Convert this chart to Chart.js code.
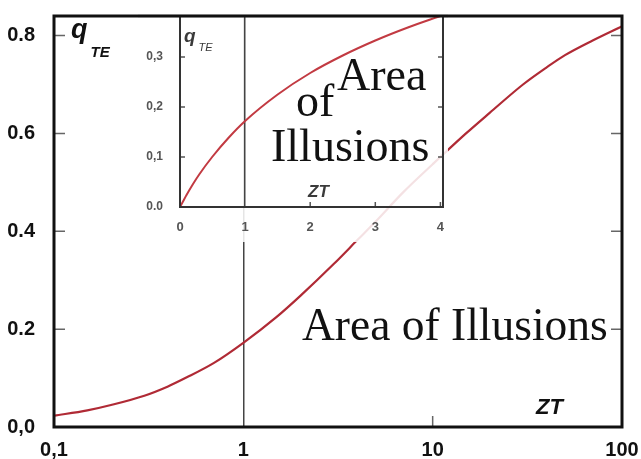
<!DOCTYPE html>
<html>
<head>
<meta charset="utf-8">
<script src="https://cdn.jsdelivr.net/npm/chart.js@4"></script>
<style>
  html, body { margin: 0; padding: 0; background: #fff; }
  #wrap { position: relative; width: 641px; height: 459px; }
  #principal { position: absolute; left: 0; top: 0; }
  #inserto { position: absolute; left: 138px; top: 0; background: rgba(255,255,255,0.86); }
</style>
</head>
<body>
<div id="wrap">
  <canvas id="principal" width="641" height="459"></canvas>
  <canvas id="inserto" width="310" height="242"></canvas>
</div>
<script>
// curva principal (eje x logaritmico)
const ztPrincipal = [0.1, 0.15, 0.2, 0.3, 0.4, 0.5, 0.7, 1, 1.5, 2, 3, 4, 5, 7, 10, 15, 20, 30, 40, 50, 70, 100];
const qPrincipal  = [0.023, 0.034, 0.045, 0.064, 0.083, 0.101, 0.131, 0.172, 0.225, 0.268, 0.333, 0.382, 0.42, 0.48, 0.537, 0.60, 0.642, 0.70, 0.735, 0.76, 0.79, 0.819];
const ticksXPrincipal = [0.1, 1, 10, 100];
const etiquetasXPrincipal = ["0,1", "1", "10", "100"];
const ticksYPrincipal = [0, 0.2, 0.4, 0.6, 0.8];
const etiquetasYPrincipal = ["0,0", "0.2", "0.4", "0.6", "0.8"];

// curva del inserto (eje x lineal)
const ztInserto = [0, 0.05, 0.1, 0.2, 0.3, 0.5, 0.75, 1, 1.5, 2, 2.5, 3, 3.5, 4];
const qInserto  = [0, 0.012, 0.024, 0.046, 0.066, 0.101, 0.139, 0.172, 0.225, 0.268, 0.303, 0.333, 0.359, 0.382];
const ticksXInserto = [0, 1, 2, 3, 4];
const ticksYInserto = [0, 0.1, 0.2, 0.3];
const etiquetasYInserto = ["0.0", "0,1", "0,2", "0,3"];

const SANS = "'Liberation Sans', Arial, sans-serif";
const SERIF = "'Liberation Serif', 'Times New Roman', serif";

// sin relleno automatico por las etiquetas de los extremos
const sinRelleno = s => { s.paddingLeft = 0; s.paddingRight = 0; s.paddingTop = 0; s.paddingBottom = 0; };

// marcas cortas hacia dentro y marco del area
const dibujarMarcas = (chart, cfg) => {
    const { ctx, chartArea: a, scales } = chart;
    ctx.save();
    ctx.strokeStyle = cfg.colorMarca;
    ctx.lineWidth = 1.5;
    cfg.marcasY.forEach(v => {
        const y = scales.y.getPixelForValue(v);
        ctx.beginPath();
        ctx.moveTo(a.left, y); ctx.lineTo(a.left + cfg.largo, y);
        ctx.moveTo(a.right, y); ctx.lineTo(a.right - cfg.largo, y);
        ctx.stroke();
    });
    cfg.marcasX.forEach(v => {
        const x = scales.x.getPixelForValue(v);
        ctx.beginPath();
        ctx.moveTo(x, a.bottom); ctx.lineTo(x, a.bottom - cfg.largo);
        ctx.stroke();
    });
    ctx.strokeStyle = cfg.colorMarco;
    ctx.lineWidth = cfg.grosor;
    ctx.strokeRect(a.left, a.top, a.right - a.left, a.bottom - a.top);
    if (cfg.grosorArriba) {
        // el borde superior del grafico principal pasa por encima del inserto
        ctx.lineWidth = cfg.grosorArriba;
        ctx.strokeStyle = "#111";
        ctx.beginPath(); ctx.moveTo(0, a.top); ctx.lineTo(chart.width, a.top); ctx.stroke();
    }
    ctx.restore();
};

const textoConSubindice = (ctx, x, y, base, sub, fBase, fSub, dy) => {
    ctx.font = fBase;
    ctx.fillText(base, x, y);
    const w = ctx.measureText(base).width;
    ctx.font = fSub;
    ctx.fillText(sub, x + w + 3, y + dy);
};

const pluginPrincipal = {
    id: "marcoPrincipal",
    afterDraw(chart) {
        dibujarMarcas(chart, { marcasY: [0.2, 0.4, 0.6, 0.8], marcasX: [10], largo: 11, colorMarca: "#666", colorMarco: "#111", grosor: 3 });
        const ctx = chart.ctx;
        ctx.save();
        ctx.fillStyle = "#111";
        ctx.textBaseline = "alphabetic";
        textoConSubindice(ctx, 71, 38, "q", "TE", `bold italic 27px ${SANS}`, `bold italic 15px ${SANS}`, 19);
        ctx.font = `bold italic 22px ${SANS}`;
        ctx.fillText("ZT", 536, 414);
        ctx.font = `45.5px ${SERIF}`;
        ctx.fillText("Area of Illusions", 302, 340);
        ctx.restore();
    },
};

const pluginInserto = {
    id: "marcoInserto",
    afterDraw(chart) {
        dibujarMarcas(chart, { marcasY: [0.1, 0.2, 0.3], marcasX: [2, 3, 4], largo: 5, colorMarca: "#555", colorMarco: "#333", grosor: 2, grosorArriba: 3 });
        const ctx = chart.ctx;
        ctx.save();
        ctx.fillStyle = "#3a3a3a";
        textoConSubindice(ctx, 46, 42, "q", "TE", `bold italic 19px ${SANS}`, `italic 11px ${SANS}`, 9);
        ctx.font = `bold italic 17px ${SANS}`;
        ctx.fillText("ZT", 170, 197);
        ctx.fillStyle = "#111";
        ctx.font = `46px ${SERIF}`;
        ctx.fillText("Area", 199, 90);
        ctx.fillText("of", 158, 116);
        ctx.fillText("Illusions", 133, 161);
        ctx.restore();
    },
};

const puntos = (xs, ys) => xs.map((x, i) => ({ x, y: ys[i] }));

new Chart(document.getElementById("principal"), {
    type: "scatter",
    data: {
        datasets: [{
            data: puntos(ztPrincipal, qPrincipal),
            showLine: true, borderColor: "#b02a35", borderWidth: 2.2,
            pointRadius: 0, cubicInterpolationMode: "monotone",
        }],
    },
    options: {
        responsive: false, animation: false, devicePixelRatio: 1,
        layout: { padding: { top: 16, right: 19, left: 0, bottom: 0 } },
        plugins: { legend: { display: false }, tooltip: { enabled: false } },
        scales: {
            x: {
                type: "logarithmic", min: 0.1, max: 100,
                afterBuildTicks: s => { s.ticks = ticksXPrincipal.map(v => ({ value: v })); },
                afterFit: s => { s.height = 32; sinRelleno(s); },
                ticks: {
                    autoSkip: false, maxRotation: 0, padding: 11, color: "#111",
                    font: { family: SANS, size: 20, weight: "bold" },
                    callback: (v, i) => etiquetasXPrincipal[i],
                },
                grid: {
                    drawTicks: false, lineWidth: 1.5,
                    color: c => (c.tick && c.tick.value === 1 ? "#444" : "rgba(0,0,0,0)"),
                },
                border: { display: false },
            },
            y: {
                min: 0, max: 0.84,
                afterBuildTicks: s => { s.ticks = ticksYPrincipal.map(v => ({ value: v })); },
                afterFit: s => { s.width = 54; sinRelleno(s); },
                ticks: {
                    padding: 11, color: "#111",
                    font: { family: SANS, size: 20, weight: "bold" },
                    callback: (v, i) => etiquetasYPrincipal[i],
                },
                grid: { display: false },
                border: { display: false },
            },
        },
    },
    plugins: [pluginPrincipal],
});

new Chart(document.getElementById("inserto"), {
    type: "scatter",
    data: {
        datasets: [{
            data: puntos(ztInserto, qInserto),
            showLine: true, borderColor: "#c23a42", borderWidth: 2,
            pointRadius: 0, cubicInterpolationMode: "monotone",
        }],
    },
    options: {
        responsive: false, animation: false, devicePixelRatio: 1,
        layout: { padding: { top: 16, right: 5, left: 0, bottom: 0 } },
        plugins: { legend: { display: false }, tooltip: { enabled: false } },
        scales: {
            x: {
                type: "linear", min: 0, max: 4.04,
                afterBuildTicks: s => { s.ticks = ticksXInserto.map(v => ({ value: v })); },
                afterFit: s => { s.height = 35; sinRelleno(s); },
                ticks: {
                    autoSkip: false, maxRotation: 0, padding: 13, color: "#555",
                    font: { family: SANS, size: 13, weight: "bold" },
                    callback: v => String(v),
                },
                grid: {
                    drawTicks: false, lineWidth: 1.5,
                    color: c => (c.tick && c.tick.value === 1 ? "#444" : "rgba(0,0,0,0)"),
                },
                border: { display: false },
            },
            y: {
                min: 0, max: 0.382,
                afterBuildTicks: s => { s.ticks = ticksYInserto.map(v => ({ value: v })); },
                afterFit: s => { s.width = 42; sinRelleno(s); },
                ticks: {
                    padding: 9, color: "#555",
                    font: { family: SANS, size: 12, weight: "bold" },
                    callback: (v, i) => etiquetasYInserto[i],
                },
                grid: { display: false },
                border: { display: false },
            },
        },
    },
    plugins: [pluginInserto],
});
</script>
</body>
</html>
